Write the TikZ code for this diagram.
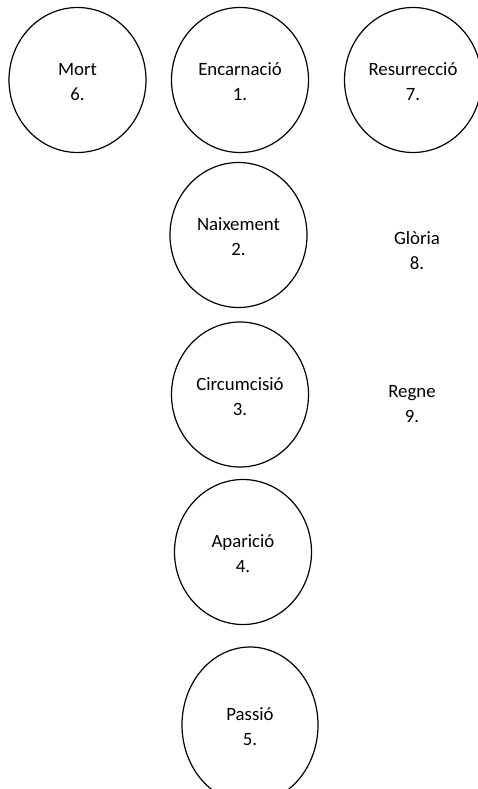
\documentclass[tikz,border=0pt]{standalone}
\usepackage{fontspec}
\setmainfont{Carlito}
\usetikzlibrary{shapes.geometric}
\newcommand{\stagetext}[2]{\raisebox{-3pt}[\height][\depth]{\begin{tabular}{@{}c@{}}#1\\#2\end{tabular}}}
\begin{document}
\begin{tikzpicture}[x=1pt,y=-1pt,
  stage/.style={draw=black, line width=1.2pt, ellipse, inner sep=0pt,
    minimum width=137pt, minimum height=145pt,
    font=\fontsize{18.8}{25}\selectfont},
  plain/.style={align=center, font=\fontsize{18.8}{25}\selectfont}]
\useasboundingbox (0,0) rectangle (478,789);
\node[stage] (mort) at (77.5,80) {\stagetext{Mort}{6.}};
\node[stage] (enc) at (240,80) {\stagetext{Encarnació}{1.}};
\node[stage] (res) at (413,80) {\stagetext{Resurrecció}{7.}};
\node[stage] (naix) at (238.5,235) {\stagetext{Naixement}{2.}};
\node[stage] (circ) at (240,394.5) {\stagetext{Circumcisió}{3.}};
\node[stage] (apar) at (243,552) {\stagetext{Aparició}{4.}};
\node[stage, minimum width=136pt, minimum height=156pt] (pass) at (250,725) {\stagetext{Passió}{5.}};
\node[plain] (glor) at (417,251) {Glòria\\8.};
\node[plain] (regne) at (412,404) {Regne\\9.};
\end{tikzpicture}
\end{document}
